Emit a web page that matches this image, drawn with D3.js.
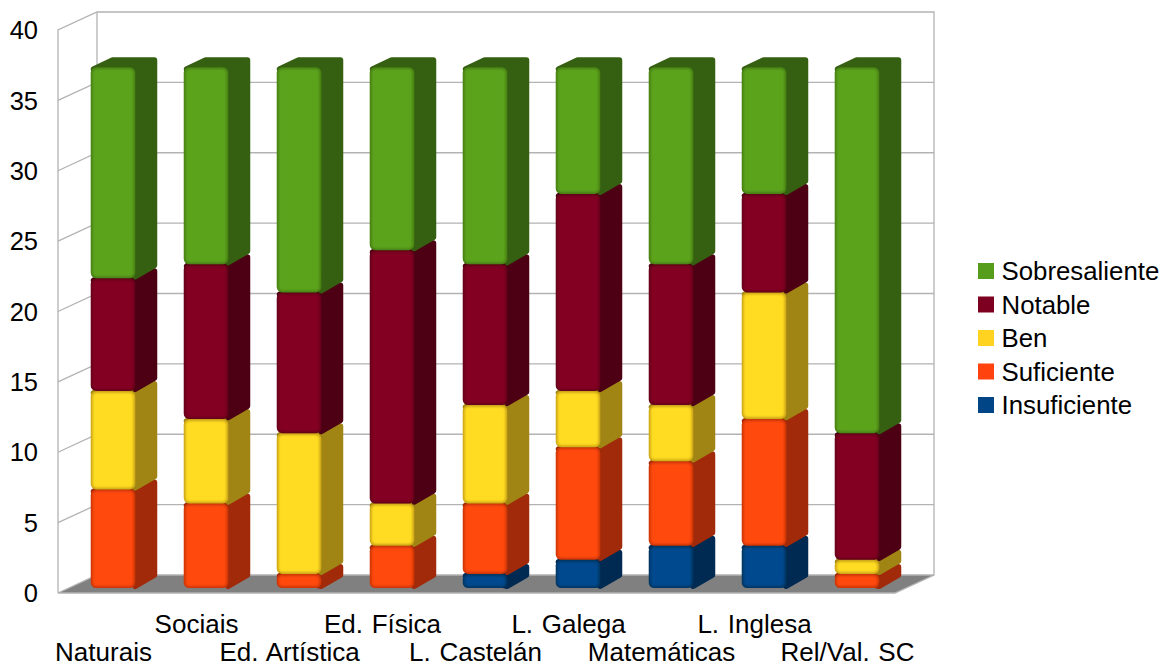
<!DOCTYPE html>
<html>
<head>
<meta charset="utf-8">
<script src="https://cdn.jsdelivr.net/npm/d3@7"></script>
<style>
  html, body { margin: 0; padding: 0; background: #fff; }
  text { font-family: "Liberation Sans", sans-serif; fill: #000; }
</style>
</head>
<body>
<div id="chart"></div>
<script>
const subjects = ["Naturais", "Sociais", "Ed. Artística", "Ed. Física", "L. Castelán", "L. Galega", "Matemáticas", "L. Inglesa", "Rel/Val. SC"];

// stacked from the bottom up
const grades = ["Insuficiente", "Suficiente", "Ben", "Notable", "Sobresaliente"];
const insuficiente  = [0, 0, 0, 0, 1, 2, 3, 3, 0];
const suficiente    = [7, 6, 1, 3, 5, 8, 6, 9, 1];
const ben           = [7, 6, 10, 3, 7, 4, 4, 9, 1];
const notable       = [8, 11, 10, 18, 10, 14, 10, 7, 9];
const sobresaliente = [15, 14, 16, 13, 14, 9, 14, 9, 26];
const yTicks = [0, 5, 10, 15, 20, 25, 30, 35, 40];

const gradeColors = ["#004586", "#ff420e", "#ffd320", "#7e0021", "#579d1c"];
// lit faces come out a little brighter than the legend swatches
const frontColors = ["#004a8e", "#ff480f", "#ffdb20", "#830023", "#5ca31e"];
const edgeColors  = ["#00355f", "#c93509", "#c9a316", "#640019", "#467f15"];
const sideColors  = ["#002a52", "#a02a09", "#a08514", "#4d0014", "#355f11"];

const seriesValues = [insuficiente, suficiente, ben, notable, sobresaliente];

const width = 1165, height = 668;
const svg = d3.select("#chart").append("svg")
  .attr("width", width)
  .attr("height", height)
  .style("display", "block");

// inner glow of the bevelled front faces
svg.append("defs").append("filter")
  .attr("id", "soft")
  .append("feGaussianBlur")
  .attr("stdDeviation", 1.1);

// front plane of the box
const front = { left: 58, right: 895, top: 30, bottom: 593 };
// box depth
const wall = { dx: 39, dy: -18 };
// how far the bars sit inside the box, and their own depth
const inset = { dx: 8.5, dy: -5 };
const barDepth = { dx: 22, dy: -10 };
const barWidth = 44.5;

const y = d3.scaleLinear().domain([0, 40]).range([front.bottom, front.top]);
const xAxisScale = d3.scaleBand().domain(subjects).range([front.left, front.right]);

const GRID = "#b3b3b3";
const box = svg.append("g").attr("fill", "none").attr("stroke", GRID).attr("stroke-width", 1.3);

// floor
svg.insert("path", "g")
  .attr("fill", "#808080")
  .attr("d", d3.line()([
    [front.left, front.bottom],
    [front.right, front.bottom],
    [front.right + wall.dx, front.bottom + wall.dy],
    [front.left + wall.dx, front.bottom + wall.dy]
  ]));

// walls
box.append("path").attr("d", d3.line()([
  [front.left, front.bottom],
  [front.left, y(40)],
  [front.left + wall.dx, y(40) + wall.dy],
  [front.right + wall.dx, y(40) + wall.dy],
  [front.right + wall.dx, front.bottom + wall.dy],
  [front.right, front.bottom],
  [front.left, front.bottom]
]));
box.append("line")
  .attr("x1", front.left + wall.dx).attr("x2", front.left + wall.dx)
  .attr("y1", y(40) + wall.dy).attr("y2", front.bottom + wall.dy);

// grid lines, left wall then back wall
yTicks.slice(0, -1).forEach(t => {
  box.append("path").attr("d", d3.line()([
    [front.left, y(t)],
    [front.left + wall.dx, y(t) + wall.dy],
    [front.right + wall.dx, y(t) + wall.dy]
  ]));
});

// bars
const stack = d3.stack()
  .keys(d3.range(grades.length))
  .value((d, k) => seriesValues[k][d]);
const layers = stack(d3.range(subjects.length));

const bars = svg.append("g");
subjects.forEach((name, i) => {
  const cx = xAxisScale(name) + xAxisScale.bandwidth() / 2 + inset.dx;
  const x0 = cx - barWidth / 2, x1 = cx + barWidth / 2;

  layers.forEach((layer, k) => {
    const [v0, v1] = layer[i];
    if (v1 === v0) return;
    const yTop = y(v1) + inset.dy;
    const yBot = y(v0) + inset.dy;
    const h = yBot - yTop;
    const g = bars.append("g");

    // side and top faces as one rounded shape
    g.append("path")
      .attr("fill", sideColors[k])
      .attr("stroke", sideColors[k])
      .attr("stroke-width", 6)
      .attr("stroke-linejoin", "round")
      .attr("d", d3.line()([
        [x0 + 3, yTop + 2],
        [x0 + barDepth.dx, yTop + barDepth.dy + 3],
        [x1 + barDepth.dx - 3, yTop + barDepth.dy + 3],
        [x1 + barDepth.dx - 3, yBot + barDepth.dy - 3],
        [x1, yBot - 2]
      ]) + "Z");

    // front face
    g.append("rect")
      .attr("x", x0).attr("y", yTop)
      .attr("width", barWidth).attr("height", h)
      .attr("rx", 5.5)
      .attr("fill", edgeColors[k]);
    g.append("rect")
      .attr("x", x0 + 1.8).attr("y", yTop + 1.8)
      .attr("width", barWidth - 3.6).attr("height", Math.max(h - 3.6, 1))
      .attr("rx", 4)
      .attr("fill", frontColors[k])
      .attr("filter", "url(#soft)");
  });
});

// axes
const yAxis = svg.append("g")
  .attr("transform", `translate(${front.left},0)`)
  .call(d3.axisLeft(y).tickValues(yTicks).tickSize(0).tickPadding(20));
yAxis.select(".domain").remove();
yAxis.selectAll("text")
  .style("font-family", '"Liberation Sans", sans-serif')
  .style("font-size", "25.5px")
  .attr("dy", "0.34em");

const xAxis = svg.append("g")
  .attr("transform", `translate(-1,${front.bottom})`)
  .call(d3.axisBottom(xAxisScale).tickSize(0));
xAxis.select(".domain").remove();
xAxis.selectAll("text")
  .style("font-family", '"Liberation Sans", sans-serif')
  .style("font-size", "26px")
  .style("word-spacing", "1.5px")
  .attr("y", (d, i) => i % 2 ? 39.5 : 67.5)
  .attr("dy", 0);

// legend, top grade first
const legendRows = d3.range(grades.length).reverse();
const legendY = d3.scalePoint().domain(legendRows).range([271, 405]);
const legend = svg.append("g");
legendRows.forEach(k => {
  legend.append("rect")
    .attr("x", 978).attr("y", legendY(k) - 8)
    .attr("width", 16).attr("height", 16)
    .attr("fill", gradeColors[k]);
  legend.append("text")
    .attr("x", 1001.5).attr("y", legendY(k) + 9)
    .attr("font-size", "25.8px")
    .text(grades[k]);
});
</script>
</body>
</html>
